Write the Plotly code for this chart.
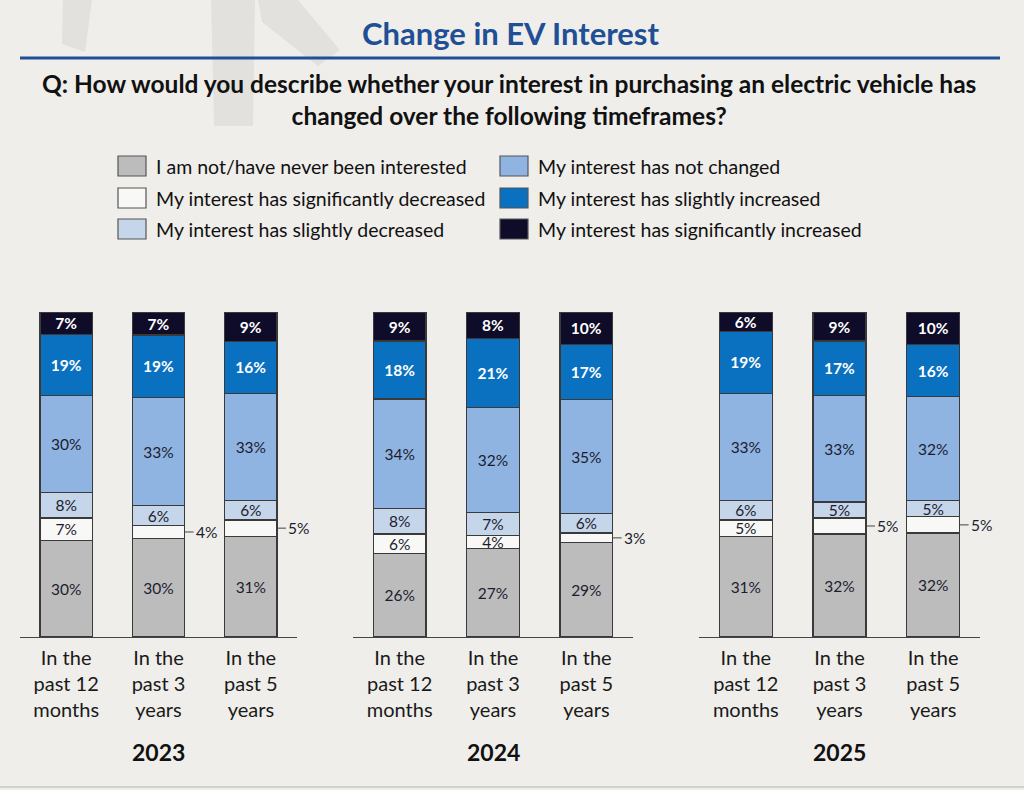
import plotly.graph_objects as go

# ---------------- data ----------------
years = ["2023", "2024", "2025"]
timeframes = ["In the<br>past 12<br>months", "In the<br>past 3<br>years", "In the<br>past 5<br>years"]

series_names = [
    "I am not/have never been interested",
    "My interest has significantly decreased",
    "My interest has slightly decreased",
    "My interest has not changed",
    "My interest has slightly increased",
    "My interest has significantly increased",
]
# values per year: [12 months, 3 years, 5 years]
never_interested = [[30, 30, 31], [26, 27, 29], [31, 32, 32]]
significantly_decreased = [[7, 4, 5], [6, 4, 3], [5, 5, 5]]
slightly_decreased = [[8, 6, 6], [8, 7, 6], [6, 5, 5]]
not_changed = [[30, 33, 33], [34, 32, 35], [33, 33, 32]]
slightly_increased = [[19, 19, 16], [18, 21, 17], [19, 17, 16]]
significantly_increased = [[7, 7, 9], [9, 8, 10], [6, 9, 10]]

series_values = [never_interested, significantly_decreased, slightly_decreased,
                 not_changed, slightly_increased, significantly_increased]

# labels drawn beside the bar (year index, bar index) for "significantly decreased"
outside_labels = [(0, 1), (0, 2), (1, 2), (2, 1), (2, 2)]

# ---------------- style ----------------
colors = ["#bcbcbc", "#f8f8f6", "#c5d5ea", "#8fb4e1", "#0a71c0", "#0e0c28"]
text_colors = ["#1c1c30", "#1c1c30", "#1c1c30", "#1c1c30", "#ffffff", "#ffffff"]
text_bold = [False, False, False, False, True, True]
BG = "#efeeeb"
FONT = "Lato"
LABEL_SIZE = 15.5
W, H = 1024, 790

def px(x):
    return x / W

def py(y):
    return 1 - y / H

x_domains = [[px(20), px(297)], [px(353), px(633)], [px(699), px(980)]]
y_domain = [py(637), py(312)]

fig = go.Figure()

for yi, year in enumerate(years):
    xa = "x" if yi == 0 else f"x{yi+1}"
    ya = "y" if yi == 0 else f"y{yi+1}"
    for si, name in enumerate(series_names):
        vals = series_values[si][yi]
        texts = []
        for bi, v in enumerate(vals):
            lab = f"{v}%"
            if text_bold[si]:
                lab = f"<b>{lab}</b>"
            if si == 1 and (yi, bi) in outside_labels:
                lab = ""
            texts.append(lab)
        fig.add_trace(go.Bar(
            x=[0, 1, 2], y=vals, name=name, xaxis=xa, yaxis=ya,
            marker=dict(color=colors[si], line=dict(color="#3a3a3a", width=1.3)),
            width=0.565, text=texts, textposition="inside",
            insidetextanchor="middle", textangle=0,
            textfont=dict(family=FONT, size=LABEL_SIZE, color=text_colors[si]),
            showlegend=False, hoverinfo="skip", cliponaxis=False,
        ))

# outside labels with leader lines
annotations = []
for (yi, bi) in outside_labels:
    totals = sum(series_values[s][yi][bi] for s in range(len(series_values)))
    below = series_values[0][yi][bi]
    v = series_values[1][yi][bi]
    mid = (below + v / 2) / totals * 100
    xa = "x" if yi == 0 else f"x{yi+1}"
    ya = "y" if yi == 0 else f"y{yi+1}"
    annotations.append(dict(
        x=bi + 0.2825, y=mid, xref=xa, yref=ya, text=f"{v}%",
        showarrow=True, arrowhead=0, arrowwidth=1, arrowcolor="#444444",
        ax=9, ay=0, xanchor="left", yanchor="middle", standoff=0, startstandoff=0,
        font=dict(family=FONT, size=LABEL_SIZE, color="#1c1c30"),
    ))

# year labels
for yi, year in enumerate(years):
    xa = "x" if yi == 0 else f"x{yi+1}"
    annotations.append(dict(
        x=1, y=py(752), xref=xa, yref="paper", text=f"<b>{year}</b>",
        showarrow=False, xanchor="center", yanchor="middle",
        font=dict(family=FONT, size=23, color="#111111"),
    ))

# title, question
annotations.append(dict(
    x=px(510), y=py(33), xref="paper", yref="paper",
    text="<b>Change in EV Interest</b>", showarrow=False,
    xanchor="center", yanchor="middle",
    font=dict(family=FONT, size=31, color="#1f4f94"),
))
annotations.append(dict(
    x=px(509), y=py(99), xref="paper", yref="paper",
    text="<b>Q: How would you describe whether your interest in purchasing an electric vehicle has<br>changed over the following timeframes?</b>",
    showarrow=False, align="center", xanchor="center", yanchor="middle",
    font=dict(family=FONT, size=24.5, color="#111111"),
))

# manual legend
shapes = []
legend_cols = [118, 500]
legend_rows = [166, 198, 229]
legend_layout = [(0, 0), (0, 1), (0, 2), (1, 0), (1, 1), (1, 2)]  # (col,row) for series order
legend_series_order = [0, 1, 2, 3, 4, 5]
for si, (c, r) in zip(legend_series_order, legend_layout):
    x0 = legend_cols[c]
    yc = legend_rows[r]
    shapes.append(dict(
        type="rect", xref="paper", yref="paper",
        x0=px(x0), x1=px(x0 + 28), y0=py(yc + 10), y1=py(yc - 10),
        fillcolor=colors[si], line=dict(color="#555555", width=1.2),
    ))
    annotations.append(dict(
        x=px(x0 + 36), y=py(yc), xref="paper", yref="paper",
        text=series_names[si], showarrow=False, xanchor="left", yanchor="middle",
        font=dict(family=FONT, size=19.5, color="#111111"),
    ))

# title rule
shapes.append(dict(type="line", xref="paper", yref="paper",
                   x0=px(20), x1=px(1000), y0=py(58), y1=py(58),
                   line=dict(color="#1f4f94", width=3)))
# bottom border
shapes.append(dict(type="line", xref="paper", yref="paper",
                   x0=0, x1=1, y0=py(787), y1=py(787),
                   line=dict(color="#d2d1ce", width=2)))

# faint watermark shapes
def poly(points):
    p = "M " + " L ".join(f"{px(a):.4f},{py(b):.4f}" for a, b in points) + " Z"
    return p

for pts in [
    [(63, 0), (92, 0), (85, 52), (62, 44)],
    [(211, 0), (255, 0), (253, 126), (214, 126)],
    [(258, 0), (298, 0), (340, 50), (318, 66), (262, 22)],
]:
    shapes.append(dict(type="path", xref="paper", yref="paper", path=poly(pts),
                       fillcolor="#e2e1de", line=dict(width=0), layer="below"))

layout = dict(
    width=W, height=H, margin=dict(l=0, r=0, t=0, b=0),
    paper_bgcolor=BG, plot_bgcolor="rgba(0,0,0,0)",
    barmode="stack", barnorm="percent",
    uniformtext=dict(minsize=LABEL_SIZE, mode="show"),
    annotations=annotations, shapes=shapes,
    font=dict(family=FONT),
)
for yi in range(3):
    xk = "xaxis" if yi == 0 else f"xaxis{yi+1}"
    yk = "yaxis" if yi == 0 else f"yaxis{yi+1}"
    layout[xk] = dict(
        domain=x_domains[yi], range=[-0.5, 2.5], tickmode="array",
        tickvals=[0, 1, 2], ticktext=timeframes, showline=True,
        linecolor="#444444", linewidth=1.3, showgrid=False, zeroline=False,
        ticks="outside", ticklen=3, tickcolor="rgba(0,0,0,0)",
        tickfont=dict(family=FONT, size=20, color="#1a1a1a"),
        anchor="y" if yi == 0 else f"y{yi+1}", fixedrange=True,
    )
    layout[yk] = dict(
        domain=y_domain, range=[0, 100.02], visible=False, showgrid=False,
        anchor="x" if yi == 0 else f"x{yi+1}", fixedrange=True,
    )

fig.update_layout(**layout)
fig.write_html("out.html", config={"displayModeBar": False},
               post_script="document.body.style.margin='0';document.body.style.overflow='hidden';")
